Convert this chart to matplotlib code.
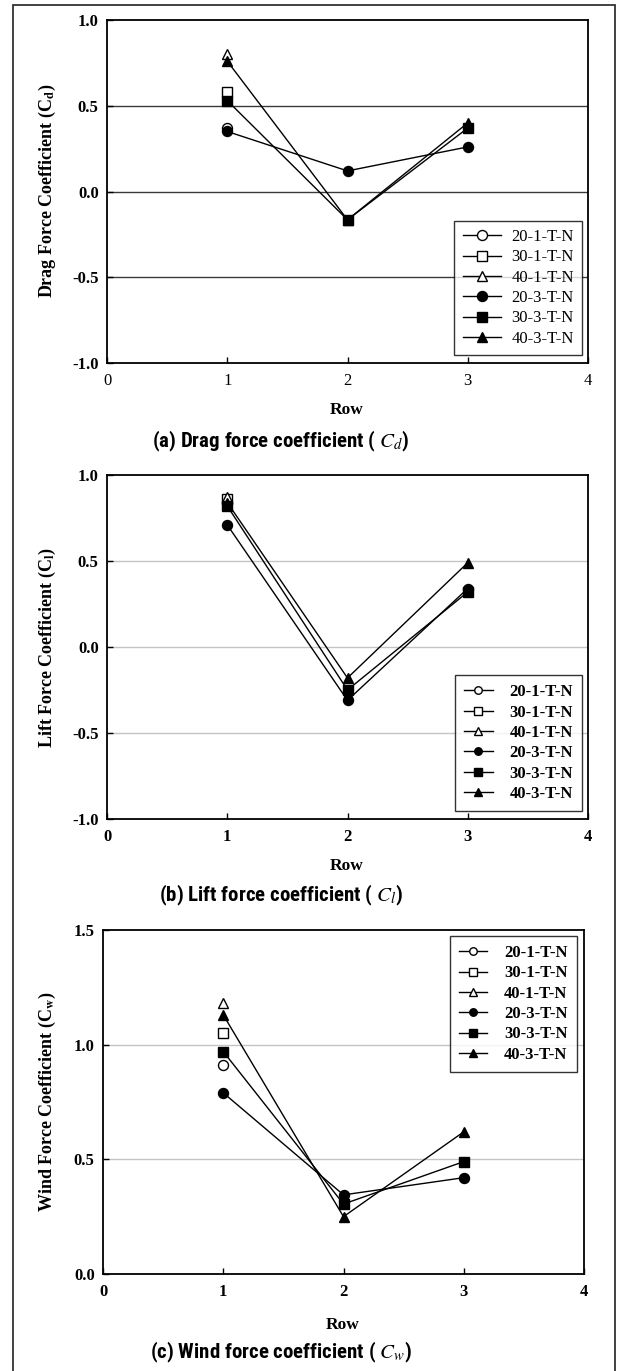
import matplotlib
matplotlib.use("Agg")
import matplotlib.pyplot as plt
from matplotlib import font_manager as fm
from matplotlib.patches import Rectangle

# ---------------- data ----------------
rows = [1, 2, 3]
rows_hollow = [1]
series_labels = ["20-1-T-N", "30-1-T-N", "40-1-T-N", "20-3-T-N", "30-3-T-N", "40-3-T-N"]

# (a) drag
cd_20_1 = [0.37]
cd_30_1 = [0.58]
cd_40_1 = [0.80]
cd_20_3 = [0.35, 0.12, 0.26]
cd_30_3 = [0.53, -0.165, 0.37]
cd_40_3 = [0.76, -0.165, 0.40]

# (b) lift
cl_20_1 = [0.84]
cl_30_1 = [0.86]
cl_40_1 = [0.87]
cl_20_3 = [0.71, -0.31, 0.34]
cl_30_3 = [0.82, -0.25, 0.32]
cl_40_3 = [0.84, -0.18, 0.49]

# (c) wind
cw_20_1 = [0.91]
cw_30_1 = [1.05]
cw_40_1 = [1.18]
cw_20_3 = [0.79, 0.345, 0.42]
cw_30_3 = [0.97, 0.305, 0.49]
cw_40_3 = [1.13, 0.25, 0.62]

xticks = [0, 1, 2, 3, 4]
yticks_ab = [-1.0, -0.5, 0.0, 0.5, 1.0]
yticks_c = [0.0, 0.5, 1.0, 1.5]

# ---------------- style ----------------
names = {f.name for f in fm.fontManager.ttflist}
serif = "Liberation Serif" if "Liberation Serif" in names else "DejaVu Serif"
title_family = None
for cand in ["Liberation Sans Narrow", "Roboto Condensed", "Open Sans Condensed",
             "Noto Sans Condensed", "Roboto"]:
    if cand in names:
        title_family = cand
        break
if title_family is None:
    title_family = "DejaVu Sans"
title_kw = dict(family=[title_family, "DejaVu Sans"], weight="bold")

plt.rcParams["font.family"] = [serif, "DejaVu Serif"]
plt.rcParams["mathtext.fontset"] = "stix"

W, H = 620, 1371
fig = plt.figure(figsize=(W / 100, H / 100), dpi=100)


def fx(px):
    return px / W


def fy(py):
    return 1 - py / H


def make_axes(left, top, bottom, width=481):
    return fig.add_axes([fx(left), fy(bottom), width / W, (bottom - top) / H])


def draw_panel(ax, hollow, filled, ylim, yticks, grid_color, xtick_bold, legend_kw):
    mks = ["o", "s", "^"]
    for vals, m, lab in zip(hollow, mks, series_labels[:3]):
        ax.plot(rows_hollow, vals, "-", marker=m, color="black", lw=1.0, ms=7.2,
                mfc="white", mec="black", mew=1.0, label=lab, zorder=3)
    for vals, m, lab in zip(filled, mks, series_labels[3:]):
        ax.plot(rows, vals, "-", marker=m, color="black", lw=1.0, ms=7.2,
                mfc="black", mec="black", label=lab, zorder=4)
    ax.set_xlim(0, 4)
    ax.set_ylim(*ylim)
    ax.set_xticks(xticks)
    ax.set_yticks(yticks)
    ax.set_xticklabels([str(t) for t in xticks], fontsize=12,
                       fontweight="bold" if xtick_bold else "normal")
    ax.set_yticklabels([f"{t:.1f}" for t in yticks], fontsize=12, fontweight="bold")
    ax.tick_params(direction="in", length=4, width=1, top=False, right=False)
    ax.tick_params(axis="y", pad=6)
    ax.tick_params(axis="x", pad=7)
    for t in yticks:
        if ylim[0] < t < ylim[1]:
            ax.axhline(t, color=grid_color, lw=1.0, zorder=1)
    for s in ax.spines.values():
        s.set_linewidth(1.3)
        s.set_color("black")
    leg = ax.legend(frameon=True, fancybox=False, shadow=False, borderaxespad=0,
                    **legend_kw)
    leg.get_frame().set_edgecolor("black")
    leg.get_frame().set_linewidth(1.0)
    return leg


# (a)
axa = make_axes(107, 20, 363)
draw_panel(axa, [cd_20_1, cd_30_1, cd_40_1], [cd_20_3, cd_30_3, cd_40_3],
           (-1.0, 1.0), yticks_ab, "#3a3a3a", False,
           dict(loc="lower right", bbox_to_anchor=(0.9875, 0.023),
                prop=dict(family=serif, size=12), handlelength=2.3,
                handletextpad=0.6, labelspacing=0.26, borderpad=0.5))

# (b)
axb = make_axes(107, 475, 819)
draw_panel(axb, [cl_20_1, cl_30_1, cl_40_1], [cl_20_3, cl_30_3, cl_40_3],
           (-1.0, 1.0), yticks_ab, "#c4c4c4", True,
           dict(loc="lower right", bbox_to_anchor=(0.9875, 0.023),
                prop=dict(family=serif, size=12, weight="bold"), handlelength=1.7,
                handletextpad=1.0, labelspacing=0.26, borderpad=0.55, markerscale=0.75))

# (c)
axc = make_axes(103, 930, 1274)
draw_panel(axc, [cw_20_1, cw_30_1, cw_40_1], [cw_20_3, cw_30_3, cw_40_3],
           (0.0, 1.5), yticks_c, "#c4c4c4", True,
           dict(loc="upper right", bbox_to_anchor=(0.985, 0.983),
                prop=dict(family=serif, size=12, weight="bold"), handlelength=1.7,
                handletextpad=1.0, labelspacing=0.26, borderpad=0.55, markerscale=0.75))

# axis labels and captions
ylabels = ["Drag Force Coefficient (C$_{\\mathbf{d}}$)",
           "Lift Force Coefficient (C$_{\\mathbf{l}}$)",
           "Wind Force Coefficient (C$_{\\mathbf{w}}$)"]
ycent = [191, 647, 1102]
rowy = [410, 866, 1325]
capy = [441, 895, 1352]
captions = ["(a) Drag force coefficient ( $\\mathit{C_d}$)",
            "(b) Lift force coefficient ( $\\mathit{C_l}$)",
            "(c) Wind force coefficient ( $\\mathit{C_w}$)"]
xcent = [347, 347, 343]
for yl, yc, ry, cy, cap, xc in zip(ylabels, ycent, rowy, capy, captions, xcent):
    fig.text(fx(47), fy(yc), yl, rotation=90, ha="center", va="center",
             fontsize=13, fontweight="bold", family=serif)
    fig.text(fx(xc), fy(ry), "Row", ha="center", va="center",
             fontsize=12.5, fontweight="bold", family=serif)
    fig.text(fx(281), fy(cy), cap, ha="center", va="center", fontsize=15, **title_kw)

# outer border
fig.add_artist(Rectangle((fx(13), -0.01), fx(615) - fx(13), fy(5) + 0.01,
                         transform=fig.transFigure, fill=False, lw=1.3,
                         ec="#333333"))

fig.savefig("out.png", dpi=100)
